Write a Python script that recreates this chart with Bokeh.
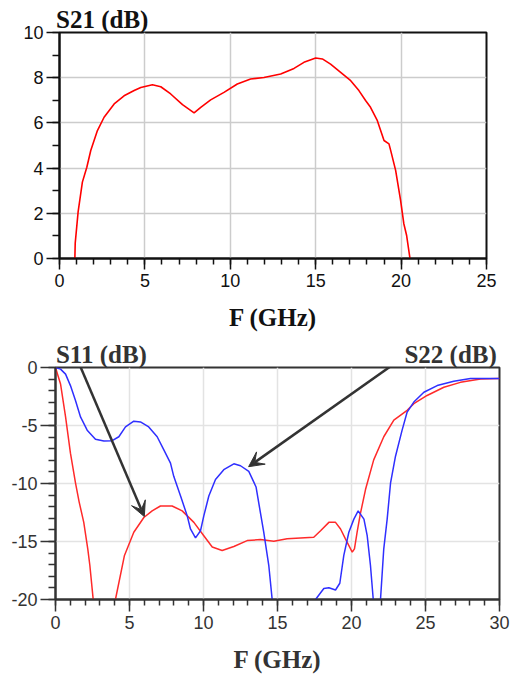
from bokeh.plotting import figure
from bokeh.layouts import column, row
from bokeh.models import (Arrow, VeeHead, Range1d, FixedTicker, LinearAxis, AllLabels)
from bokeh.embed import file_html
from bokeh.resources import INLINE

nan = float("nan")

# ---- data: S21 (top chart) ----
s21_f = [0.9, 0.92, 1.09, 1.34, 1.6, 1.83, 2.22, 2.61, 3.2, 3.78, 4.37, 4.76, 5.44, 5.93,
         6.51, 7.2, 7.88, 8.27, 8.85, 9.63, 10.41, 11.19, 11.97, 12.95, 13.73, 14.31, 15.0,
         15.39, 15.87, 16.46, 17.05, 17.53, 17.92, 18.21, 18.61, 19.0, 19.29, 19.4, 19.68,
         19.97, 20.16, 20.32, 20.52]
s21_db = [0.0, 0.68, 2.06, 3.38, 4.04, 4.78, 5.66, 6.25, 6.84, 7.2, 7.43, 7.57, 7.69, 7.6,
          7.28, 6.81, 6.44, 6.69, 7.02, 7.35, 7.72, 7.94, 8.01, 8.16, 8.41, 8.68, 8.87,
          8.83, 8.6, 8.24, 7.87, 7.43, 6.99, 6.69, 6.1, 5.22, 5.07, 4.75, 3.9,
          2.57, 1.54, 1.03, 0.0]

# ---- data: S11 (red) and S22 (blue), bottom chart ----
s11_f = [0, 0.34, 0.68, 1.01, 1.35, 1.6, 1.91, 2.18, 2.32, 2.54, 2.6, nan,
         4.0, 4.05, 4.66, 5.29, 5.97, 6.53, 7.09, 7.88, 8.56, 9.35, 10.02, 10.59, 11.26,
         12.05, 12.95, 13.85, 14.75, 15.65, 16.55, 17.45, 17.91, 18.47, 18.92, 19.26,
         19.59, 20.05, 20.2, 20.38, 20.6, 20.95, 21.5, 22.18, 22.86, 23.76, 24.21, 25.11,
         26.24, 27.36, 28.72, 30.0]
s11_db = [0, -1.42, -4.26, -7.39, -9.94, -11.6, -13.35, -15.63, -17.05, -19.9, -20.5, nan,
          -20.5, -20.0, -16.2, -14.2, -12.93, -12.36, -11.94, -11.94, -12.36, -13.35, -14.5,
          -15.48, -15.77, -15.43, -14.92, -14.83, -14.97, -14.77, -14.69, -14.63, -14.07,
          -13.35, -13.35, -13.92, -14.77, -15.92, -15.63, -14.2, -12.6, -10.5, -7.96, -5.97,
          -4.54, -3.69, -3.12, -2.41, -1.7, -1.28, -0.99, -0.94]

s22_f = [0, 0.34, 0.68, 1.01, 1.35, 1.69, 2.14, 2.7, 3.27, 3.83, 4.28, 4.73, 5.29, 5.74,
         6.3, 6.87, 7.32, 7.77, 7.99, 8.45, 8.9, 9.12, 9.46, 9.8, 10.02, 10.36, 10.81,
         11.37, 12.05, 12.5, 13.06, 13.55, 14.07, 14.41, 14.64, 14.7, nan,
         17.5, 17.57, 18.13, 18.47, 18.92, 19.21, 19.48, 19.82, 20.16, 20.45, 20.84, 21.06,
         21.28, 21.47, 21.5, nan,
         21.94, 21.96, 22.18, 22.41, 22.64, 22.97, 23.42, 23.76, 24.21, 24.89, 25.79, 26.91,
         28.04, 30.0]
s22_db = [0, -0.14, -0.57, -1.56, -2.84, -4.26, -5.4, -6.19, -6.33, -6.31, -5.97, -5.12,
          -4.63, -4.69, -5.12, -5.97, -7.1, -8.24, -9.38, -11.08, -12.79, -13.92, -14.69,
          -14.07, -12.79, -11.08, -9.66, -8.81, -8.3, -8.47, -8.95, -10.3, -14.2, -17.05,
          -20.0, -20.5, nan,
          -20.5, -20.0, -19.05, -18.98, -19.18, -18.6, -16.2, -14.2, -13.07, -12.36, -13.07,
          -14.5, -17.05, -20.0, -20.5, nan,
          -20.5, -20.0, -15.63, -13.07, -9.94, -7.67, -5.4, -3.84, -2.98, -2.13, -1.56,
          -1.19, -0.94, -0.94]

top_xticks = [0, 5, 10, 15, 20, 25]
top_yticks = [0, 2, 4, 6, 8, 10]
bot_xticks = [0, 5, 10, 15, 20, 25, 30]
bot_yticks = [-20, -15, -10, -5, 0]

top_title = {2.5: "S21 (dB)"}
bot_titles = {3.1: "S11 (dB)", 26.7: "S22 (dB)"}
x_label = "F (GHz)"

SERIF = "Liberation Serif"
SANS = "Liberation Sans"


def style(p, xt, xminor, yt, yminor, col, grid_col, xtick_len, ytick_len):
    p.xaxis.ticker = FixedTicker(ticks=xt, minor_ticks=xminor)
    p.yaxis.ticker = FixedTicker(ticks=yt, minor_ticks=yminor)
    p.yaxis.major_label_overrides = {t: str(t) for t in yt}
    p.xgrid.ticker = FixedTicker(ticks=xt)
    p.ygrid.ticker = FixedTicker(ticks=yt)
    for ax, tl, ml in ((p.xaxis, xtick_len, 6), (p.yaxis, ytick_len, 7)):
        ax.major_tick_in = 0
        ax.minor_tick_in = 0
        ax.major_tick_out = tl
        ax.minor_tick_out = ml
        ax.axis_line_color = col
        ax.axis_line_width = 2
        ax.major_tick_line_color = col
        ax.minor_tick_line_color = col
        ax.major_tick_line_width = 1.5
        ax.minor_tick_line_width = 1.5
        ax.major_label_text_font = SANS
        ax.major_label_text_font_size = "18px"
        ax.major_label_text_color = col
    p.xaxis.major_label_standoff = 4
    p.yaxis.major_label_standoff = 3
    p.xaxis.axis_label = x_label
    p.xaxis.axis_label_text_font = SERIF
    p.xaxis.axis_label_text_font_style = "bold"
    p.xaxis.axis_label_text_font_size = "25px"
    p.xaxis.axis_label_text_color = col
    p.xaxis.axis_label_standoff = 14
    p.grid.grid_line_color = grid_col
    p.grid.grid_line_width = 1.5
    p.outline_line_color = col
    p.outline_line_width = 2
    p.background_fill_color = "white"
    p.border_fill_color = "white"


def title_axis(p, labels, col):
    ax = LinearAxis(ticker=FixedTicker(ticks=list(labels.keys()), minor_ticks=[]),
                    major_label_overrides=labels, major_label_policy=AllLabels(),
                    axis_line_color=None, major_tick_line_color=None,
                    minor_tick_line_color=None, major_tick_out=0, major_tick_in=0,
                    minor_tick_out=0, minor_tick_in=0, major_label_standoff=0,
                    major_label_text_font=SERIF, major_label_text_font_style="bold",
                    major_label_text_font_size="25px", major_label_text_color=col)
    p.add_layout(ax, "above")


# ---------------- top chart ----------------
p1 = figure(width=515, height=334, x_range=Range1d(0, 25), y_range=Range1d(0, 10),
            output_backend="svg", toolbar_location=None,
            min_border_left=59, min_border_right=29, min_border_top=32, min_border_bottom=76)
style(p1, top_xticks, list(range(0, 26)), top_yticks, list(range(0, 11)),
      "#111111", "#cccccc", 11, 13)
title_axis(p1, top_title, "#111111")
p1.line(s21_f, s21_db, line_color="#ff0000", line_width=1.6)

# ---------------- bottom chart ----------------
p2 = figure(width=515, height=341, x_range=Range1d(0, 30), y_range=Range1d(-20, 0),
            output_backend="svg", toolbar_location=None,
            min_border_left=55, min_border_right=16, min_border_top=33, min_border_bottom=74)
style(p2, bot_xticks, list(range(0, 31)), bot_yticks, list(range(-20, 1)),
      "#333333", "#e3e3e3", 12, 15)
title_axis(p2, bot_titles, "#333333")
p2.line(s11_f, s11_db, line_color="#ff2a2a", line_width=1.5)
p2.line(s22_f, s22_db, line_color="#2f2fff", line_width=1.5)

p2.add_layout(Arrow(end=VeeHead(size=15, fill_color="#333333", line_color="#333333"),
                    x_start=1.64, y_start=0.2, x_end=6.0, y_end=-12.85,
                    line_color="#333333", line_width=2.5))
p2.add_layout(Arrow(end=VeeHead(size=15, fill_color="#333333", line_color="#333333"),
                    x_start=22.75, y_start=0.2, x_end=13.05, y_end=-8.55,
                    line_color="#333333", line_width=2.5))

layout = column(row(p1), row(p2), spacing=0)
open("out.html", "w").write(file_html(layout, INLINE))
